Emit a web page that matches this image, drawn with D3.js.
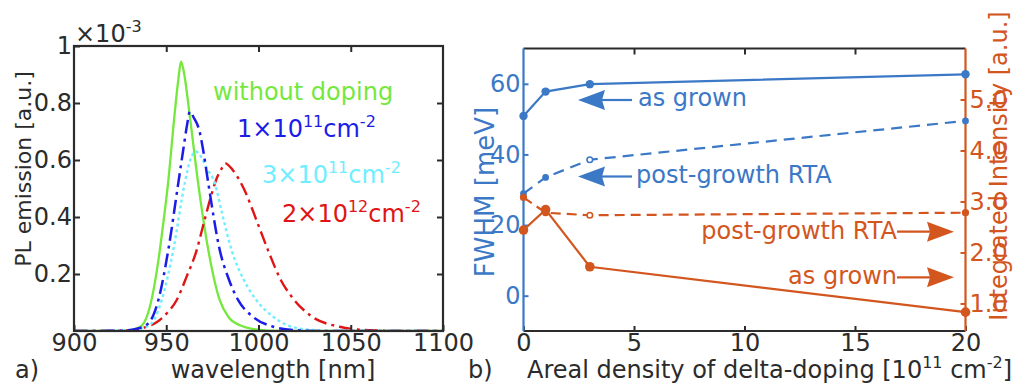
<!DOCTYPE html>
<html><head><meta charset="utf-8">
<script src="https://cdn.jsdelivr.net/npm/d3@7/dist/d3.min.js"></script>
<style>
body{margin:0;background:#fff;}
svg text{font-family:"DejaVu Sans",Verdana,sans-serif;}
</style></head><body>
<svg id="c" width="1016" height="385"></svg>
<script>
// ---------- Panel a) PL spectra ----------
const wlTicks = [900, 950, 1000, 1050, 1100];
const plTicks = [0.2, 0.4, 0.6, 0.8, 1];

const greenLambda = [900, 920, 930, 936, 940, 943, 946, 949, 951, 954.4, 956.5, 958, 959.5, 962.8, 967.3, 972.8, 979, 983.6, 990, 1000, 1010, 1100];
const greenPL     = [0, 0, 0.003, 0.015, 0.06, 0.14, 0.26, 0.41, 0.52, 0.752, 0.88, 0.945, 0.91, 0.752, 0.518, 0.284, 0.108, 0.05, 0.02, 0.004, 0, 0];

const blueLambda = [900, 925, 934, 940.3, 945.7, 951.1, 956.5, 959.2, 961.2, 962.8, 964.8, 968.3, 970, 972.8, 979, 984, 989, 997, 1008, 1020, 1035, 1100];
const bluePL     = [0, 0.001, 0.008, 0.027, 0.108, 0.284, 0.518, 0.635, 0.72, 0.77, 0.75, 0.694, 0.635, 0.518, 0.284, 0.18, 0.108, 0.05, 0.015, 0.003, 0, 0];

const cyanLambda = [900, 930, 936, 942, 947.5, 953.8, 960, 963, 966, 969, 972, 976.4, 980, 985.4, 992, 998.9, 1008, 1015, 1025, 1040, 1100];
const cyanPL     = [0, 0.002, 0.008, 0.027, 0.108, 0.284, 0.518, 0.6, 0.63, 0.61, 0.57, 0.518, 0.42, 0.284, 0.18, 0.108, 0.05, 0.022, 0.006, 0, 0];

const redLambda = [900, 930, 937, 943.9, 950, 955.6, 961, 966.5, 970, 973.7, 977, 980, 982, 986, 992, 1000, 1006, 1012, 1018, 1028, 1044, 1060, 1080, 1100];
const redPL     = [0, 0.002, 0.01, 0.027, 0.06, 0.108, 0.19, 0.284, 0.37, 0.46, 0.53, 0.57, 0.588, 0.565, 0.5, 0.37, 0.27, 0.18, 0.12, 0.055, 0.015, 0.003, 0, 0];

// ---------- Panel b) FWHM / intensity ----------
const dopTicks = [0, 5, 10, 15, 20];
const fwhmTicks = [0, 20, 40, 60];
const intTicks = [1, 2, 3, 4, 5];
const doping = [0, 1, 3, 20];
const fwhmAsGrown = [50.9, 57.8, 59.9, 62.7];
const fwhmRTA     = [28.9, 33.5, 38.5, 49.5];
const intAsGrown  = [2.44, 2.84, 1.72, 0.83];
const intRTA      = [3.08, 2.78, 2.73, 2.78];

const cGreen = "#74e83c", cBlue = "#1c1ce8", cCyan = "#70eeff", cRed = "#e01414";
const cB = "#3b78c6", cO = "#d2561e", cFrame = "#2b2b2b";
const FS = 24;

const svg = d3.select("#c");

// ====== Panel a ======
const xL = d3.scaleLinear().domain([900, 1100]).range([74, 443]);
const yP = d3.scaleLinear().domain([0, 1]).range([331, 46]);

svg.append("defs").append("clipPath").attr("id", "clipA")
  .append("rect").attr("x", xL(900)).attr("y", yP(1)).attr("width", xL(1100) - xL(900)).attr("height", yP(0) - yP(1));

const lineA = d3.line().x(d => xL(d[0])).y(d => yP(d[1])).curve(d3.curveMonotoneX);
const gA = svg.append("g").attr("clip-path", "url(#clipA)");
const specs = [
  [greenLambda, greenPL, cGreen, null, 2.3],
  [redLambda, redPL, cRed, "13,5,3,5", 2.4],
  [cyanLambda, cyanPL, cCyan, "3,3", 2.4],
  [blueLambda, bluePL, cBlue, "14,5,3,5", 2.5]
];
specs.forEach(([lx, ly, col, dash, w]) => {
  gA.append("path").datum(lx.map((v, i) => [v, ly[i]]))
    .attr("d", lineA).attr("fill", "none").attr("stroke", col)
    .attr("stroke-width", w).attr("stroke-dasharray", dash);
});

function styleAxis(g, col) {
  g.select(".domain").remove();
  g.selectAll("line").attr("stroke", col).attr("stroke-width", 2);
  g.selectAll("text").attr("fill", col).attr("font-size", FS)
    .attr("font-family", '"DejaVu Sans",Verdana,sans-serif');
}

styleAxis(svg.append("g").attr("transform", `translate(0,${yP(0)})`)
  .call(d3.axisBottom(xL).tickValues(wlTicks).tickSizeInner(-6).tickSizeOuter(0).tickPadding(3)
    .tickFormat(d3.format("d"))), cFrame);
styleAxis(svg.append("g").attr("transform", `translate(0,${yP(1)})`)
  .call(d3.axisTop(xL).tickValues(wlTicks.slice(1, -1)).tickSizeInner(-6).tickSizeOuter(0).tickFormat("")), cFrame);
styleAxis(svg.append("g").attr("transform", `translate(${xL(900)},0)`)
  .call(d3.axisLeft(yP).tickValues(plTicks).tickSizeInner(-6).tickSizeOuter(0).tickPadding(2)
    .tickFormat(d => d === 1 ? "1" : d3.format(".1f")(d))), cFrame);
styleAxis(svg.append("g").attr("transform", `translate(${xL(1100)},0)`)
  .call(d3.axisRight(yP).tickValues(plTicks.slice(0, -1)).tickSizeInner(-6).tickSizeOuter(0).tickFormat("")), cFrame);

svg.append("rect").attr("x", xL(900)).attr("y", yP(1)).attr("width", xL(1100) - xL(900))
  .attr("height", yP(0) - yP(1)).attr("fill", "none").attr("stroke", cFrame).attr("stroke-width", 2.2);

function supText(x, y, parts, col, anchor) {
  const t = svg.append("text").attr("x", x).attr("y", y).attr("fill", col)
    .attr("font-size", FS).attr("text-anchor", anchor || "start");
  let up = 0;
  parts.forEach(([s, sup]) => {
    const ts = t.append("tspan").text(s);
    if (sup && !up) { ts.attr("dy", -10).attr("font-size", 16); up = 1; }
    else if (sup) { ts.attr("font-size", 16); }
    else if (up) { ts.attr("dy", 10); up = 0; }
  });
  return t;
}

supText(75, 42, [["×10", 0], ["-3", 1]], cFrame);

svg.append("text").attr("x", 213).attr("y", 100).attr("fill", cGreen).attr("font-size", FS).text("without doping");
supText(237, 137, [["1×10", 0], ["11", 1], ["cm", 0], ["-2", 1]], cBlue);
supText(262, 182.5, [["3×10", 0], ["11", 1], ["cm", 0], ["-2", 1]], cCyan);
supText(282, 222, [["2×10", 0], ["12", 1], ["cm", 0], ["-2", 1]], cRed);

svg.append("text").attr("transform", "translate(31,169) rotate(-90)").attr("text-anchor", "middle")
  .attr("font-size", 22).attr("fill", cFrame).text("PL emission [a.u.]");
svg.append("text").attr("x", 273).attr("y", 378).attr("text-anchor", "middle")
  .attr("font-size", FS).attr("fill", cFrame).text("wavelength [nm]");
svg.append("text").attr("x", 15).attr("y", 378).attr("font-size", FS).attr("fill", cFrame).text("a)");

// ====== Panel b ======
const xR = d3.scaleLinear().domain([0, 20]).range([523.5, 965.5]);
const yF = d3.scaleLinear().domain([-10, 70]).range([331, 48.5]);
const yI = d3.scaleLinear().domain([0.46, 6.0]).range([331, 48.5]);

styleAxis(svg.append("g").attr("transform", `translate(0,${yF(-10)})`)
  .call(d3.axisBottom(xR).tickValues(dopTicks).tickSizeInner(-5).tickSizeOuter(0).tickPadding(3)), cFrame);
styleAxis(svg.append("g").attr("transform", `translate(0,${yF(70)})`)
  .call(d3.axisTop(xR).tickValues(dopTicks.slice(1, -1)).tickSizeInner(-6).tickSizeOuter(0).tickFormat("")), cFrame);
styleAxis(svg.append("g").attr("transform", `translate(${xR(0)},0)`)
  .call(d3.axisLeft(yF).tickValues(fwhmTicks).tickSizeInner(-5).tickSizeOuter(0).tickPadding(3)), cB);
styleAxis(svg.append("g").attr("transform", `translate(${xR(20)},0)`)
  .call(d3.axisRight(yI).tickValues(intTicks).tickSizeInner(-5).tickSizeOuter(0).tickPadding(4)), cO);

// frame
svg.append("line").attr("x1", xR(0)).attr("x2", xR(20)).attr("y1", yF(70)).attr("y2", yF(70)).attr("stroke", cFrame).attr("stroke-width", 2.2);
svg.append("line").attr("x1", xR(0)).attr("x2", xR(20)).attr("y1", yF(-10)).attr("y2", yF(-10)).attr("stroke", cFrame).attr("stroke-width", 2.2);
svg.append("line").attr("x1", xR(0)).attr("x2", xR(0)).attr("y1", yF(70)).attr("y2", yF(-10)).attr("stroke", cB).attr("stroke-width", 2.2);
svg.append("line").attr("x1", xR(20)).attr("x2", xR(20)).attr("y1", yF(70)).attr("y2", yF(-10)).attr("stroke", cO).attr("stroke-width", 2.2);

function series(vals, ys, col, dash, rBig, hollowIdx, rSmall) {
  const pts = doping.map((d, i) => [xR(d), ys(vals[i])]);
  svg.append("path").datum(pts).attr("d", d3.line()).attr("fill", "none")
    .attr("stroke", col).attr("stroke-width", 2.2).attr("stroke-dasharray", dash);
  pts.forEach((p, i) => {
    const hollow = hollowIdx === i;
    svg.append("circle").attr("cx", p[0]).attr("cy", p[1])
      .attr("r", hollow ? 2.8 : (rSmall && i !== 0 && i !== doping.length - 1 ? rSmall : rBig))
      .attr("fill", hollow ? "#fff" : col).attr("stroke", col).attr("stroke-width", hollow ? 1.6 : 0);
  });
}
series(fwhmAsGrown, yF, cB, null, 4.2, -1);
series(fwhmRTA, yF, cB, "11,7", 3.4, 2);
series(intAsGrown, yI, cO, null, 4.8, -1);
series(intRTA, yI, cO, "10,6", 3.6, 2);

// annotations
function arrow(x1, x2, tip, y, col, dir) {
  svg.append("line").attr("x1", x1).attr("x2", x2).attr("y1", y).attr("y2", y).attr("stroke", col).attr("stroke-width", 2.2);
  const base = tip - dir * 27;
  svg.append("path").attr("d", `M${tip},${y} L${base},${y - 10} L${base + dir * 3},${y} L${base},${y + 10} Z`).attr("fill", col);
}
arrow(600, 632, 578, 100, cB, -1);
svg.append("text").attr("x", 638).attr("y", 106).attr("font-size", FS).attr("fill", cB).text("as grown");
arrow(600, 632, 578, 176.5, cB, -1);
svg.append("text").attr("x", 636).attr("y", 182.5).attr("font-size", FS).attr("fill", cB).text("post-growth RTA");

arrow(897, 932, 954, 231.7, cO, 1);
svg.append("text").attr("x", 897).attr("y", 239).attr("text-anchor", "end").attr("font-size", FS).attr("fill", cO).text("post-growth RTA");
arrow(897, 932, 954, 277.3, cO, 1);
svg.append("text").attr("x", 897).attr("y", 284).attr("text-anchor", "end").attr("font-size", FS).attr("fill", cO).text("as grown");

svg.append("text").attr("transform", "translate(494,192) rotate(-90)").attr("text-anchor", "middle")
  .attr("font-size", 26).attr("fill", cB).text("FWHM [meV]");
svg.append("text").attr("transform", "translate(1007,166) rotate(-90)").attr("text-anchor", "middle")
  .attr("font-size", FS).attr("fill", cO).text("Integrated Intensity [a.u.]");

svg.append("text").attr("x", 468).attr("y", 378).attr("font-size", FS).attr("fill", cFrame).text("b)");
supText(527, 378, [["Areal density of delta-doping [10", 0], ["11", 1], [" cm", 0], ["-2", 1], ["]", 0]], cFrame);
</script>
</body></html>
